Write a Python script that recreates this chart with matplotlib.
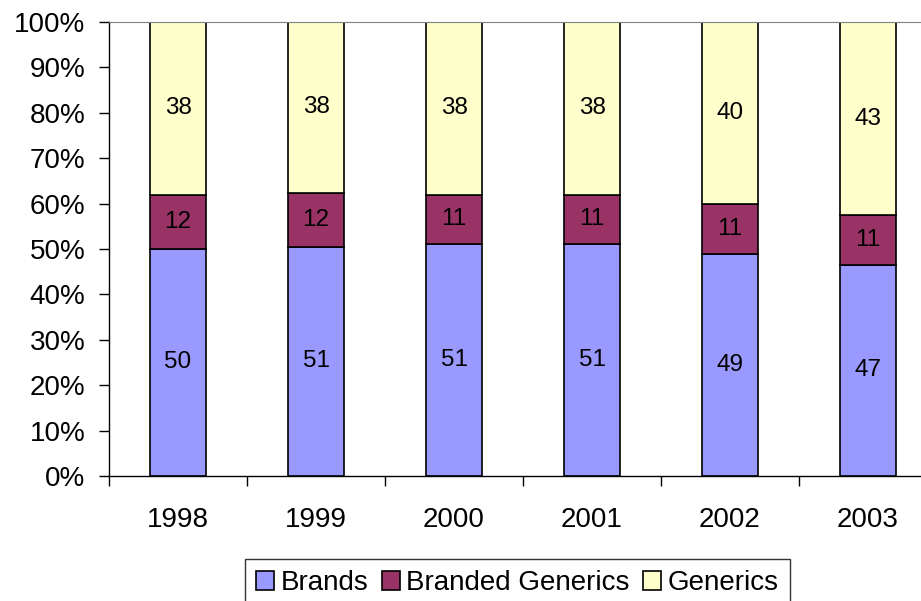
import numpy as np
import matplotlib.pyplot as plt
from matplotlib.patches import Patch

plt.rcParams['font.family'] = ['Liberation Sans', 'DejaVu Sans']

years = ['1998', '1999', '2000', '2001', '2002', '2003']
brands = [50, 51, 51, 51, 49, 47]
branded_generics = [12, 12, 11, 11, 11, 11]
generics = [38, 38, 38, 38, 40, 43]

series = [('Brands', brands, '#9999FF'),
          ('Branded Generics', branded_generics, '#993366'),
          ('Generics', generics, '#FFFFCC')]

W, H = 921, 601
fig = plt.figure(figsize=(W / 100, H / 100), dpi=100)
ax = fig.add_axes([109 / W, (H - 476) / H, 828 / W, 454 / H])

x = np.arange(len(years))
totals = np.array(brands) + np.array(branded_generics) + np.array(generics)
bottom = np.zeros(len(years))
for name, vals, col in series:
    frac = np.array(vals) / totals
    ax.bar(x, frac, width=0.4, bottom=bottom, color=col, edgecolor='black', linewidth=1.2)
    for xi, b, f, v in zip(x, bottom, frac, vals):
        ax.text(xi, b + f / 2, str(v), ha='center', va='center', fontsize=17.5)
    bottom += frac

ax.set_xlim(-0.5, len(years) - 0.5)
ax.set_ylim(0, 1)
ax.set_yticks(np.arange(0, 1.01, 0.1))
ax.set_yticklabels([f'{int(round(v * 100))}%' for v in np.arange(0, 1.01, 0.1)], fontsize=20)
ax.set_xticks(x)
ax.set_xticklabels(years, fontsize=20)
ax.set_xticks(np.arange(-0.5, len(years)), minor=True)
ax.tick_params(axis='x', which='major', length=0, pad=22)
ax.tick_params(axis='x', which='minor', length=7, width=1)
ax.tick_params(axis='y', length=7, width=1, pad=10)

ax.spines['top'].set_color('#808080')
ax.spines['right'].set_visible(False)
for s in ['left', 'bottom']:
    ax.spines[s].set_color('black')
    ax.spines[s].set_linewidth(1)

handles = [Patch(facecolor=c, edgecolor='black', linewidth=1.2, label=n) for n, _, c in series]
leg = fig.legend(handles=handles, loc='upper left', bbox_to_anchor=(245 / W, (H - 559) / H),
                 ncol=3, fontsize=20, frameon=True, fancybox=False, handlelength=0.65,
                 handleheight=0.65, handletextpad=0.22, columnspacing=0.5, borderpad=0.4,
                 borderaxespad=0)
leg.get_frame().set_edgecolor('black')
leg.get_frame().set_linewidth(1)

fig.savefig('out.png', dpi=100)
